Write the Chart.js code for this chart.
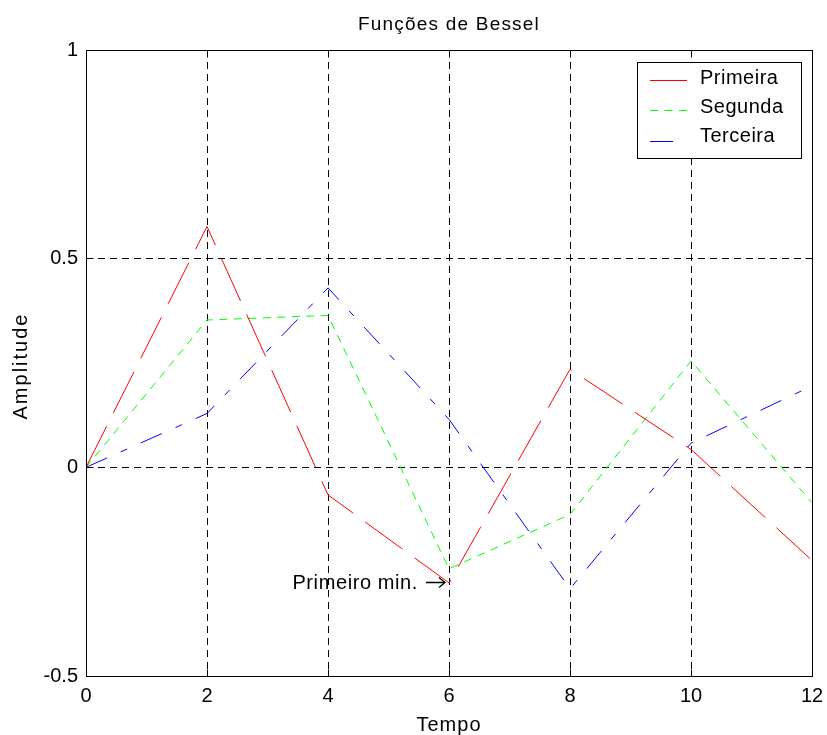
<!DOCTYPE html>
<html>
<head>
<meta charset="utf-8">
<title>Funções de Bessel</title>
<script src="https://cdn.jsdelivr.net/npm/chart.js@4/dist/chart.umd.min.js"></script>
<style>
  html, body { margin: 0; padding: 0; background: #fff; }
  #wrap { width: 827px; height: 735px; }
</style>
</head>
<body>
<div id="wrap"><canvas id="bessel" width="827" height="735"></canvas></div>
<script>
// ── Dados: J1, J2, J3 amostradas de 2 em 2 ──────────────────────
const tempo    = [0, 2, 4, 6, 8, 10, 12];
const primeira = [0, 0.577, -0.066, -0.277, 0.235, 0.043, -0.223];
const segunda  = [0, 0.353, 0.364, -0.243, -0.113, 0.255, -0.085];
const terceira = [0, 0.129, 0.430, 0.115, -0.291, 0.058, 0.195];

const xTicks = [0, 2, 4, 6, 8, 10, 12];
const yTicks = [-0.5, 0, 0.5, 1];

const titulo = 'Funções de Bessel';
const tituloX = 'Tempo';
const tituloY = 'Amplitude';
const anotacao = 'Primeiro min.';
const anotX = tempo[3];
const anotY = primeira[3];

const FONTE = '"Liberation Sans", Arial, sans-serif';
Chart.defaults.font.family = FONTE;
Chart.defaults.color = '#000';

const series = [
  { label: 'Primeira', data: primeira, cor: '#ff0000', dash: [46, 15] },
  { label: 'Segunda',  data: segunda,  cor: '#00ff00', dash: [8, 6.5] },
  { label: 'Terceira', data: terceira, cor: '#0000ff', dash: [23, 15, 7, 15] },
];

const pts = arr => arr.map((v, i) => ({ x: tempo[i], y: v }));

// grade tracejada só no interior; as bordas ficam por conta da moldura
const corGrade = (lo, hi) => c => (c.tick && (c.tick.value === lo || c.tick.value === hi)) ? 'rgba(0,0,0,0)' : '#000';

function texto(ctx, str, x, y, size, spacing, align, base) {
  ctx.save();
  ctx.font = size + 'px ' + FONTE;
  ctx.fillStyle = '#000';
  ctx.textAlign = align || 'left';
  ctx.textBaseline = base || 'alphabetic';
  if ('letterSpacing' in ctx) ctx.letterSpacing = spacing + 'px';
  ctx.fillText(str, x, y);
  ctx.restore();
}

// ── Moldura, marcas internas, títulos, legenda e anotação ───────
const decoracao = {
  id: 'decoracao',
  afterDraw(chart) {
    const { ctx, chartArea: a, scales: { x, y } } = chart;
    const px = v => Math.round(x.getPixelForValue(v) - 0.5) + 0.5;
    const py = v => Math.round(y.getPixelForValue(v) - 0.5) + 0.5;
    const L = px(x.min), R = px(x.max), T = py(y.max), B = py(y.min);

    ctx.save();
    ctx.strokeStyle = '#000';
    ctx.lineWidth = 1;
    ctx.setLineDash([]);
    ctx.strokeRect(L, T, R - L, B - T);
    // marcas de escala voltadas para dentro
    ctx.beginPath();
    xTicks.forEach(v => {
      const p = px(v);
      ctx.moveTo(p, B); ctx.lineTo(p, B - 7);
      ctx.moveTo(p, T); ctx.lineTo(p, T + 7);
    });
    yTicks.forEach(v => {
      const p = py(v);
      ctx.moveTo(L, p); ctx.lineTo(L + 7, p);
      ctx.moveTo(R, p); ctx.lineTo(R - 7, p);
    });
    ctx.stroke();
    ctx.restore();

    // títulos
    texto(ctx, titulo, (a.left + a.right) / 2, 30, 19, 1.2, 'center');
    texto(ctx, tituloX, (a.left + a.right) / 2, 731, 20, 1, 'center');
    ctx.save();
    ctx.translate(27, (a.top + a.bottom) / 2 + 3);
    ctx.rotate(-Math.PI / 2);
    texto(ctx, tituloY, 0, 0, 20, 2, 'center');
    ctx.restore();

    // anotação no primeiro mínimo, com seta até o ponto
    const ax = x.getPixelForValue(anotX), ay = py(anotY);
    texto(ctx, anotacao, ax - 31, ay + 1, 20, 0.6, 'right', 'middle');
    ctx.save();
    ctx.strokeStyle = '#000';
    ctx.lineWidth = 1.3;
    ctx.beginPath();
    ctx.moveTo(ax - 23, ay); ctx.lineTo(ax - 4, ay);
    ctx.moveTo(ax - 10, ay - 5); ctx.lineTo(ax - 4, ay); ctx.lineTo(ax - 10, ay + 5);
    ctx.stroke();
    ctx.restore();

    // legenda
    const bx = 637.5, by = 62.5, bw = 164, bh = 96;
    const linhaY = [80.5, 110.5, 141.5], textoY = [78, 107, 136];
    ctx.save();
    ctx.fillStyle = '#fff';
    ctx.fillRect(bx, by, bw, bh);
    ctx.strokeStyle = '#000';
    ctx.lineWidth = 1;
    ctx.strokeRect(bx, by, bw, bh);
    series.forEach((s, i) => {
      ctx.strokeStyle = s.cor;
      ctx.setLineDash(s.dash);
      ctx.beginPath();
      ctx.moveTo(650, linhaY[i]);
      ctx.lineTo(687, linhaY[i]);
      ctx.stroke();
      texto(ctx, s.label, 700, textoY[i], 20, 0.5, 'left', 'middle');
    });
    ctx.restore();
  }
};

new Chart(document.getElementById('bessel'), {
  type: 'line',
  data: {
    datasets: series.map(s => ({
      label: s.label,
      data: pts(s.data),
      borderColor: s.cor,
      borderWidth: 1,
      borderDash: s.dash,
      pointRadius: 0,
      fill: false,
      tension: 0,
    }))
  },
  options: {
    responsive: false,
    animation: false,
    devicePixelRatio: 1,
    layout: { padding: { top: 50, right: 15, left: 0, bottom: 0 } },
    plugins: { legend: { display: false }, title: { display: false }, tooltip: { enabled: false } },
    scales: {
      x: {
        type: 'linear', min: 0, max: 12,
        afterFit: s => { s.height = 59; s.paddingLeft = 0; s.paddingRight = 0; },
        afterBuildTicks: s => { s.ticks = xTicks.map(v => ({ value: v })); },
        ticks: { color: '#000', font: { size: 20 }, padding: 8, maxRotation: 0, callback: v => String(v) },
        grid: { color: corGrade(0, 12), lineWidth: 1, drawTicks: false },
        border: { display: false, dash: [7, 5] },
      },
      y: {
        type: 'linear', min: -0.5, max: 1,
        afterFit: s => { s.width = 86; s.paddingTop = 0; s.paddingBottom = 0; },
        afterBuildTicks: s => { s.ticks = yTicks.map(v => ({ value: v })); },
        ticks: { color: '#000', font: { size: 20 }, padding: 8, callback: v => String(v) },
        grid: { color: corGrade(-0.5, 1), lineWidth: 1, drawTicks: false },
        border: { display: false, dash: [7, 5] },
      }
    }
  },
  plugins: [decoracao]
});
</script>
</body>
</html>
